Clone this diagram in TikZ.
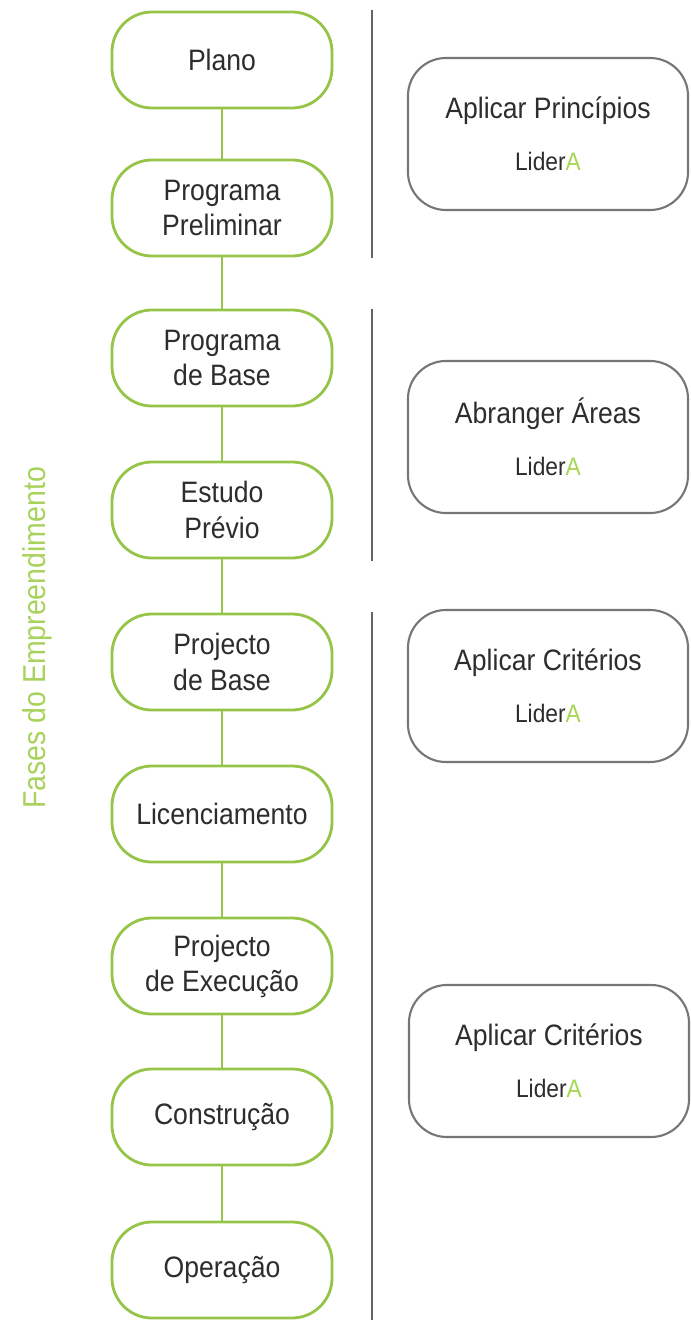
\documentclass[tikz,border=0pt]{standalone}
\usepackage{fontspec}
\setmainfont[FakeStretch=0.9]{Liberation Sans}
\usetikzlibrary{positioning}
\definecolor{LiderGreen}{RGB}{150,196,72}
\definecolor{LabelGreen}{RGB}{168,210,92}
\definecolor{AGreen}{RGB}{165,215,80}
\definecolor{BarGray}{RGB}{100,100,100}
\definecolor{BoxGray}{RGB}{118,118,118}
\definecolor{TextGray}{RGB}{45,45,45}

\begin{document}
\begin{tikzpicture}[x=0.025cm,y=-0.025cm,
    every node/.style={align=center, text=TextGray},
    phase/.style={draw=LiderGreen, line width=2pt, rounded corners=1cm, fill=white,
        minimum width=5.5cm, minimum height=2.4cm, inner sep=0pt,
        font=\fontsize{21pt}{25pt}\selectfont},
    action/.style={draw=BoxGray, line width=1.5pt, rounded corners=0.95cm, fill=white,
        minimum width=7cm, minimum height=3.8cm, inner sep=0pt,
        font=\fontsize{21pt}{23pt}\selectfont},
    link/.style={draw=LiderGreen, line width=1.4pt},
    bar/.style={draw=BarGray, line width=2pt}]
  \useasboundingbox (0,0) rectangle (690,1320);

  % dividers
  \draw[bar] (372,10) -- (372,258);
  \draw[bar] (372,309) -- (372,561);
  \draw[bar] (372,612) -- (372,1320);

  % phases
  \node[phase] (plano)   at (222,60)   {Plano};
  \node[phase] (prelim)  at (222,208)  {Programa\\Preliminar};
  \node[phase] (base)    at (222,358)  {Programa\\de Base};
  \node[phase] (estudo)  at (222,510)  {Estudo\\Prévio};
  \node[phase] (projb)   at (222,662)  {Projecto\\de Base};
  \node[phase] (licen)   at (222,814)  {Licenciamento};
  \node[phase] (projex)  at (222,966)  {Projecto\\de Execução};
  \node[phase] (constr)  at (222,1117) {Construção};
  \node[phase] (operac)  at (222,1270) {Operação};

  \foreach \a/\b in {plano/prelim, prelim/base, base/estudo, estudo/projb,
                     projb/licen, licen/projex, projex/constr, constr/operac}
    \draw[link] (\a) -- (\b);

  % LiderA actions
  \newcommand{\lidera}{{\fontsize{18pt}{20pt}\selectfont Lider\textcolor{AGreen}{A}}}
  \node[action] (princ)  at (548,134)  {Aplicar Princípios\\[14pt]\lidera};
  \node[action] (areas)  at (548,437)  {Abranger Áreas\\[14pt]\lidera};
  \node[action] (crit1)  at (548,686)  {Aplicar Critérios\\[14pt]\lidera};
  \node[action] (crit2)  at (549,1061) {Aplicar Critérios\\[14pt]\lidera};

  % side label
  \node[rotate=90, text=LabelGreen, font=\fontsize{22.5pt}{26pt}\selectfont]
    (fases) at (37,638) {Fases do Empreendimento};
\end{tikzpicture}
\end{document}
